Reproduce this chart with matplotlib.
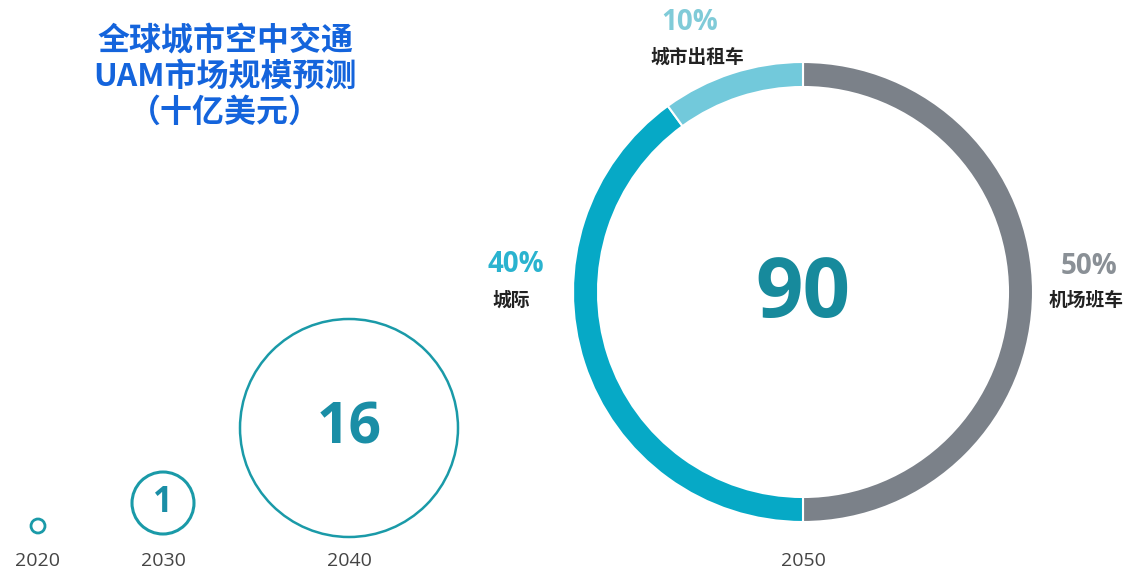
import matplotlib
matplotlib.use("Agg")
import matplotlib.pyplot as plt
from matplotlib.patches import Circle

plt.rcParams['font.family'] = ['Noto Sans CJK SC', 'DejaVu Sans']

# Market size (billion USD) per year
years = ["2020", "2030", "2040", "2050"]
market_values = [None, 1, 16, 90]

# 2050 segment breakdown
segments = ["机场班车", "城际", "城市出租车"]
shares = [50, 40, 10]
share_labels = ["50%", "40%", "10%"]

title_lines = ["全球城市空中交通", "UAM市场规模预测", "（十亿美元）"]

W, H = 1127, 570
fig = plt.figure(figsize=(W / 100, H / 100), dpi=100)
ax = fig.add_axes([0, 0, 1, 1])
ax.set_xlim(0, W)
ax.set_ylim(0, H)
ax.set_aspect('equal')
ax.axis('off')

def Y(py):
    return H - py

ring_color = "#1a9aa8"
num_color = "#1a8ea6"
year_color = "#444444"

# Small outlined circles for early years
small = [(38, 526, 7, 2.0), (163, 503, 31, 2.2), (349, 428, 109, 1.8)]
for (cx, cy, r, lw) in small:
    ax.add_patch(Circle((cx, Y(cy)), r, fill=False, edgecolor=ring_color, lw=lw))

num_font = dict(family=['Open Sans', 'DejaVu Sans'], fontweight='bold', color=num_color,
                ha='center', va='center')
ax.text(163, Y(503), str(market_values[1]), fontsize=25, **num_font)
ax.text(349, Y(428), str(market_values[2]), fontsize=41, **num_font)

# 2050 donut
cx, cy, R = 803, 292, 230
seg_colors = ["#7b8189", "#06a9c6", "#72c9db"]
ax.pie(shares, colors=seg_colors, startangle=90, counterclock=False,
       center=(cx, Y(cy)), radius=R, frame=True,
       wedgeprops=dict(width=25, edgecolor='white', linewidth=1.5))
ax.set_xlim(0, W)
ax.set_ylim(0, H)
ax.axis('off')
ax.text(cx, Y(296), str(market_values[3]), fontsize=60, family=['Open Sans', 'DejaVu Sans'],
        fontweight='bold', color="#178a9c", ha='center', va='center')

# Segment labels
pct_font = dict(family=['Open Sans', 'DejaVu Sans'], fontweight='bold', ha='center', va='center',
                fontsize=20)
lab_font = dict(fontsize=13.5, fontweight='bold', color="#222222", ha='center', va='center')
ax.text(1089, Y(267), share_labels[0], color="#8a9096", **pct_font)
ax.text(1086, Y(300), segments[0], **lab_font)
ax.text(516, Y(264), share_labels[1], color="#2ab3cf", **pct_font)
ax.text(511, Y(300), segments[1], **lab_font)
ax.text(690, Y(22), share_labels[2], color="#80cbd8", **pct_font)
ax.text(697, Y(57), segments[2], **lab_font)

# Year labels
year_x = [37, 163, 349, 803]
for x, yr in zip(year_x, years):
    ax.text(x, Y(561), yr, fontsize=14, color=year_color, ha='center', va='center',
            family=['Open Sans', 'DejaVu Sans'])

# Title
for i, line in enumerate(title_lines):
    ax.text(225, Y(41 + 36 * i), line, fontsize=23, fontweight='bold', color="#1464dc",
            ha='center', va='center')

fig.savefig("out.png", dpi=100, facecolor='white')
